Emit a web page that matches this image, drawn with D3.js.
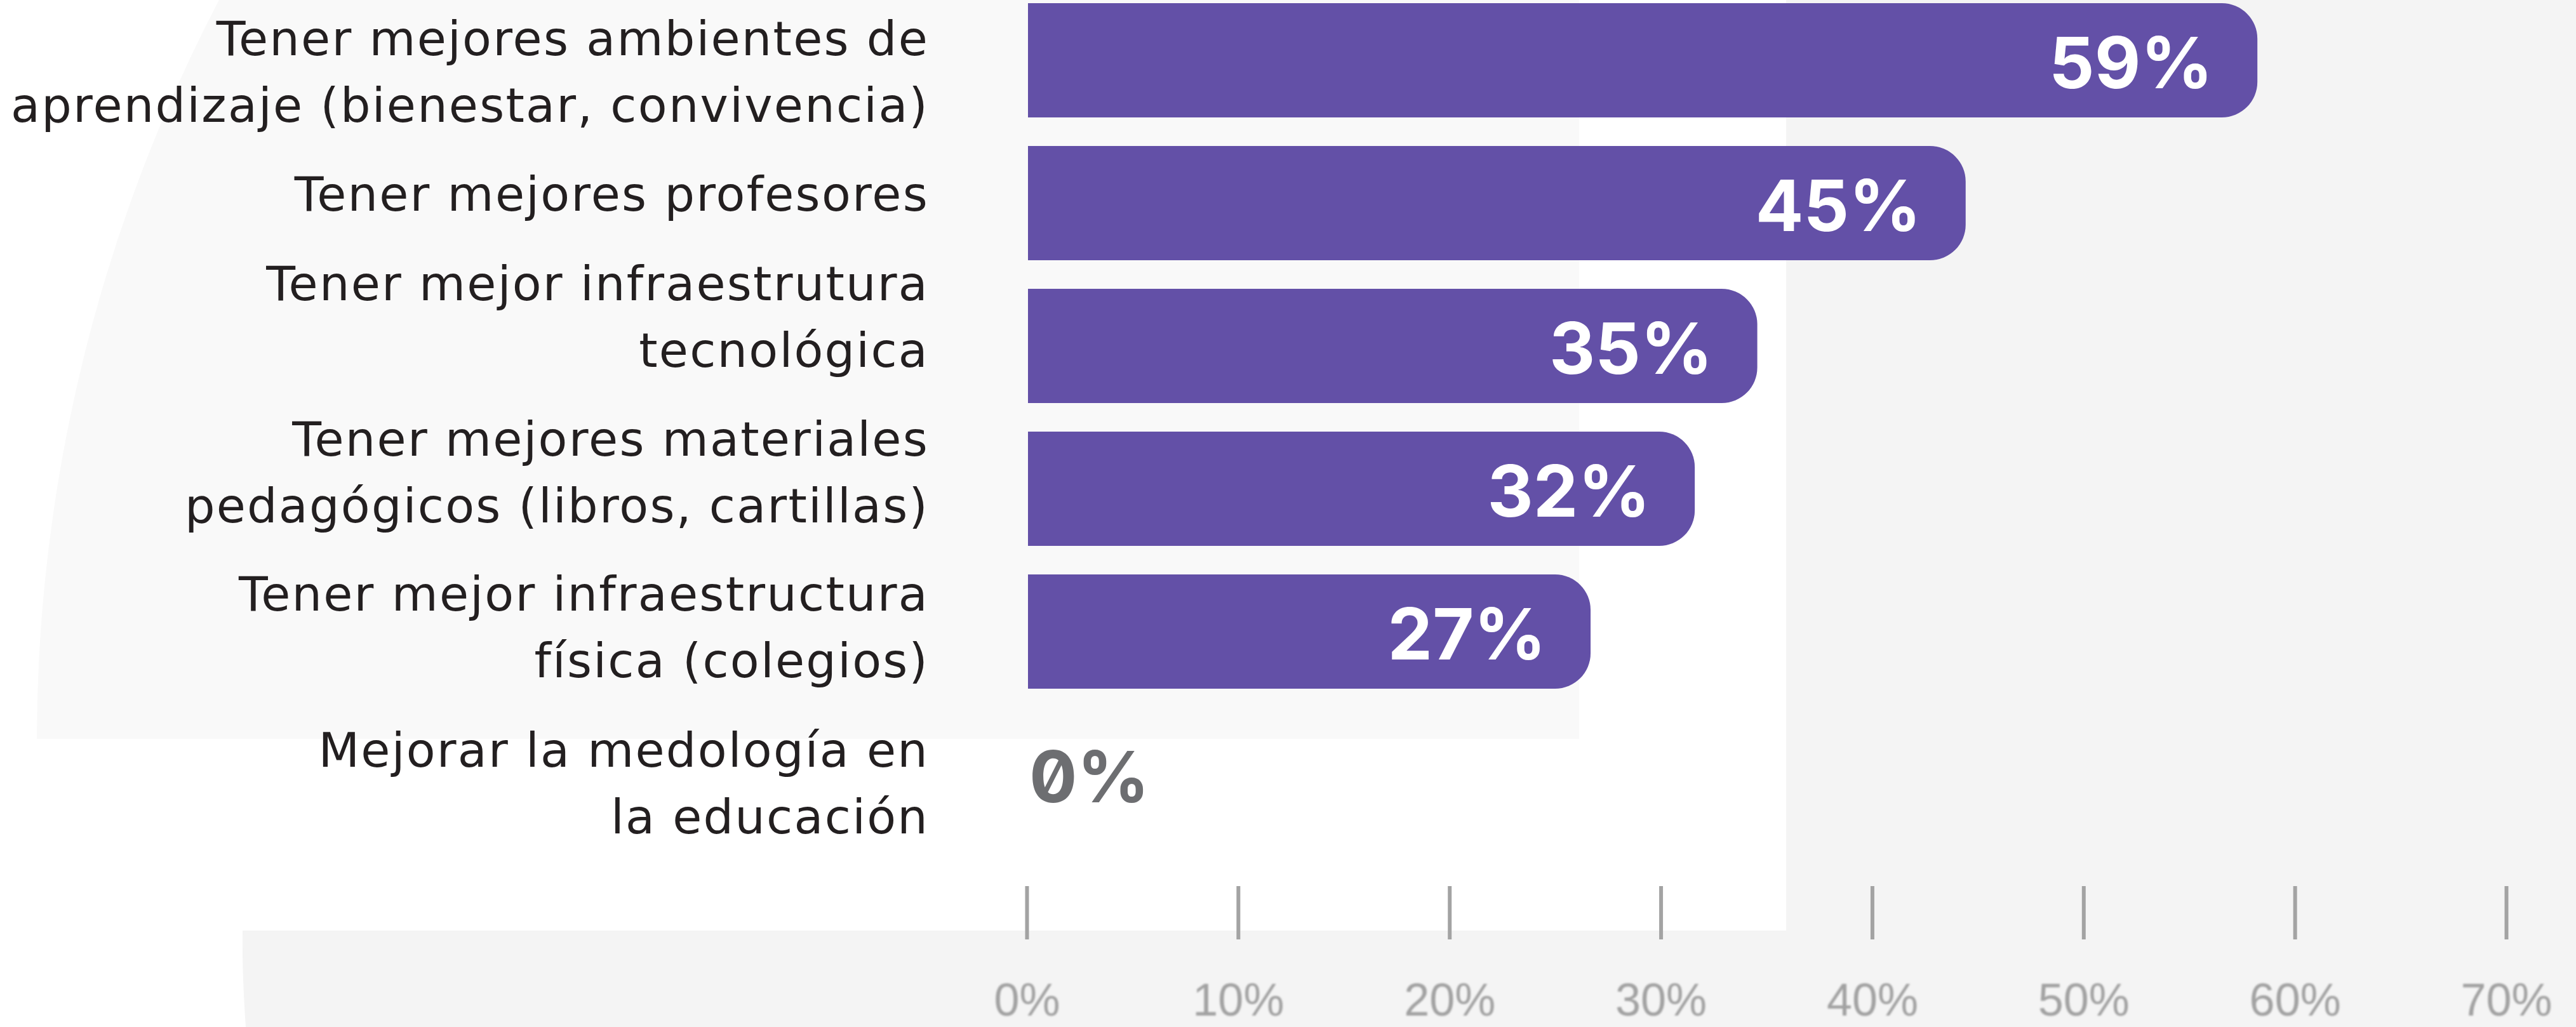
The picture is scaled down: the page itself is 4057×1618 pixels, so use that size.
<!DOCTYPE html>
<html>
<head>
<meta charset="utf-8">
<script src="https://cdn.jsdelivr.net/npm/d3@7"></script>
<style>
  html, body { margin: 0; padding: 0; background: #ffffff; }
  svg { display: block; }
</style>
</head>
<body>
<script>
// ---------- DATA ----------
const categories = [
  ["Tener mejores ambientes de", "aprendizaje (bienestar, convivencia)"],
  ["Tener mejores profesores"],
  ["Tener mejor infraestrutura", "tecnológica"],
  ["Tener mejores materiales", "pedagógicos (libros, cartillas)"],
  ["Tener mejor infraestructura", "física (colegios)"],
  ["Mejorar la medología en", "la educación"]
];
const values = [59, 45, 35, 32, 27, 0];
const tickValues = [0, 10, 20, 30, 40, 50, 60, 70];
const tickLabels = ["0%", "10%", "20%", "30%", "40%", "50%", "60%", "70%"];

// ---------- LAYOUT ----------
const W = 4057, H = 1618;
const labelNudge = [17, -15, -47, -27, -8, 13];

const svg = d3.select("body").append("svg")
  .attr("width", W).attr("height", H)
  .attr("viewBox", `0 0 ${W} ${H}`);
const defs = svg.append("defs");

// Background shapes
const bg = svg.append("g");
bg.append("path")
  .attr("fill", "#f4f4f4")
  .attr("d", `M2813,0 H${W} V${H} H387 Q381,1530 382,1466 H2813 Z`);
const cx = 2583, cy = 1169, R = 2525;
defs.append("clipPath").attr("id", "lc")
  .append("rect").attr("x", 0).attr("y", 0).attr("width", 2487).attr("height", 1164);
bg.append("circle")
  .attr("cx", cx).attr("cy", cy).attr("r", R)
  .attr("fill", "#f9f9f9")
  .attr("clip-path", "url(#lc)");

// Scales
const y = d3.scaleBand()
  .domain(d3.range(categories.length))
  .range([-17.5, 1332.5])
  .paddingInner(0.2)
  .paddingOuter(0.1);

const xBar = d3.scaleLinear().domain([0, 71]).range([1619, 3949]);
const xAxis = d3.scaleLinear().domain([0, 70]).range([1617, 3947]);

const barColor = "#6350a7";
const r = 56;

// Bars
svg.append("g").selectAll("path")
  .data(values.map((v, i) => ({ v, i })).filter(d => d.v > 0))
  .join("path")
  .attr("fill", barColor)
  .attr("d", d => {
    const x0 = xBar(0), x1 = xBar(d.v);
    const y0 = y(d.i), h = y.bandwidth();
    const rr = Math.min(r, h / 2, x1 - x0);
    return `M${x0},${y0} H${x1 - rr} A${rr},${rr} 0 0 1 ${x1},${y0 + rr} V${y0 + h - rr} A${rr},${rr} 0 0 1 ${x1 - rr},${y0 + h} H${x0} Z`;
  });

// Value labels
svg.append("g").selectAll("text")
  .data(values.map((v, i) => ({ v, i })))
  .join("text")
  .attr("x", d => d.v > 0 ? xBar(d.v) - 70 : xBar(0) + 2)
  .attr("y", d => y(d.i) + y.bandwidth() / 2 + 44)
  .attr("text-anchor", d => d.v > 0 ? "end" : "start")
  .attr("fill", d => d.v > 0 ? "#ffffff" : "#6d6e71")
  .style("font-family", "Inter, 'Liberation Sans', sans-serif")
  .style("font-weight", 700)
  .style("font-size", "112px")
  .style("font-feature-settings", "'zero' 1")
  .text(d => d.v + "%");

// Category labels
const lineH = 105, capHalf = 27;
const lab = svg.append("g")
  .style("font-family", "'DejaVu Sans', sans-serif")
  .style("font-size", "75px")
  .style("letter-spacing", "2.2px")
  .attr("fill", "#231f20")
  .attr("text-anchor", "end");
categories.forEach((lines, i) => {
  const yc = y(i) + y.bandwidth() / 2 + labelNudge[i];
  const t = lab.append("text");
  lines.forEach((ln, j) => {
    t.append("tspan")
      .attr("x", 1463)
      .attr("y", yc + capHalf + (j - (lines.length - 1) / 2) * lineH)
      .text(ln);
  });
});

// Axis
defs.append("filter").attr("id", "soft")
  .append("feGaussianBlur").attr("stdDeviation", 1.4);

const axisG = svg.append("g")
  .attr("transform", "translate(0,1396)")
  .call(d3.axisBottom(xAxis)
    .tickValues(tickValues)
    .tickSize(84)
    .tickFormat((d, i) => tickLabels[i]));
axisG.select(".domain").remove();
axisG.selectAll(".tick line")
  .attr("stroke", "#a3a3a3")
  .attr("stroke-width", 6);
axisG.selectAll(".tick text")
  .attr("y", 204)
  .attr("dy", 0)
  .attr("fill", "#a2a2a2")
  .attr("filter", "url(#soft)")
  .style("font-family", "'Liberation Sans', sans-serif")
  .style("font-size", "72px");
</script>
</body>
</html>
